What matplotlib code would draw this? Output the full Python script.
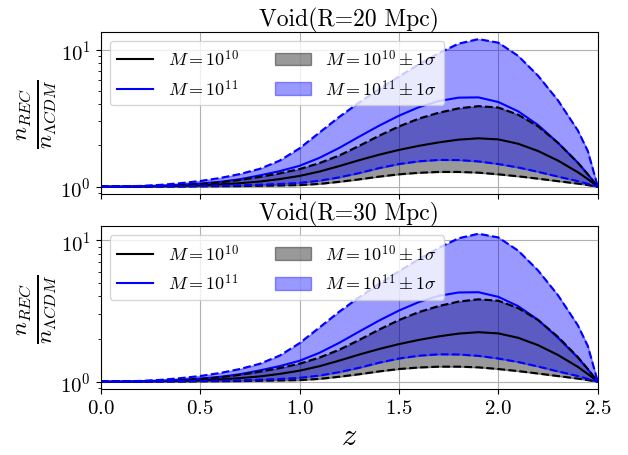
import matplotlib
matplotlib.use("Agg")
import matplotlib.pyplot as plt

plt.rcParams['font.family'] = 'serif'
plt.rcParams['font.serif'] = ['cmr10']
plt.rcParams['mathtext.fontset'] = 'cm'
plt.rcParams['axes.formatter.use_mathtext'] = True
plt.rcParams['axes.unicode_minus'] = False

z = [0.0, 0.1, 0.2, 0.3, 0.4, 0.5, 0.6, 0.7, 0.8, 0.9, 1.0, 1.1, 1.2, 1.3,
     1.4, 1.5, 1.6, 1.7, 1.8, 1.9, 2.0, 2.1, 2.2, 2.3, 2.4, 2.45, 2.5]

titles = ["Void(R=20 Mpc)", "Void(R=30 Mpc)"]

# R = 20 Mpc
m10_mid_20 = [1.0, 1.0, 1.002, 1.007, 1.014, 1.023, 1.038, 1.059, 1.089, 1.135, 1.197, 1.288, 1.413, 1.560,
              1.710, 1.854, 1.986, 2.104, 2.203, 2.254, 2.213, 2.056, 1.820, 1.549, 1.274, 1.135, 1.0]
m10_hi_20 = [1.0, 1.002, 1.007, 1.014, 1.026, 1.045, 1.074, 1.119, 1.178, 1.250, 1.343, 1.486, 1.690, 1.986,
             2.355, 2.754, 3.141, 3.467, 3.733, 3.873, 3.784, 3.350, 2.754, 2.089, 1.496, 1.230, 1.0]
m10_lo_20 = [1.0, 1.0, 1.0, 1.002, 1.002, 1.005, 1.007, 1.009, 1.014, 1.019, 1.026, 1.047, 1.084, 1.130,
             1.183, 1.230, 1.262, 1.280, 1.280, 1.265, 1.230, 1.189, 1.143, 1.096, 1.052, 1.026, 1.0]
m11_mid_20 = [1.0, 1.002, 1.007, 1.016, 1.030, 1.052, 1.084, 1.132, 1.208, 1.297, 1.419, 1.622, 1.919, 2.317,
              2.786, 3.296, 3.802, 4.217, 4.467, 4.487, 4.150, 3.548, 2.818, 2.089, 1.496, 1.230, 1.0]
m11_hi_20 = [1.0, 1.002, 1.012, 1.030, 1.059, 1.099, 1.156, 1.236, 1.349, 1.549, 1.905, 2.483, 3.236, 4.121,
             5.152, 6.383, 7.816, 9.441, 11.09, 11.97, 11.27, 9.016, 6.457, 4.266, 2.570, 1.820, 1.0]
m11_lo_20 = [1.0, 1.0, 1.002, 1.005, 1.007, 1.012, 1.016, 1.023, 1.033, 1.045, 1.064, 1.104, 1.169, 1.256,
             1.365, 1.462, 1.531, 1.567, 1.563, 1.528, 1.462, 1.380, 1.282, 1.183, 1.096, 1.047, 1.0]

# R = 30 Mpc
m10_mid_30 = [1.0, 1.0, 1.002, 1.007, 1.014, 1.023, 1.037, 1.059, 1.088, 1.134, 1.195, 1.285, 1.408, 1.553,
              1.700, 1.842, 1.972, 2.089, 2.186, 2.237, 2.193, 2.041, 1.810, 1.543, 1.271, 1.133, 1.0]
m10_hi_30 = [1.0, 1.002, 1.007, 1.014, 1.025, 1.044, 1.073, 1.118, 1.176, 1.247, 1.339, 1.480, 1.682, 1.972,
             2.335, 2.727, 3.105, 3.424, 3.685, 3.822, 3.735, 3.310, 2.727, 2.074, 1.490, 1.228, 1.0]
m10_lo_30 = [1.0, 1.0, 1.0, 1.002, 1.002, 1.005, 1.007, 1.009, 1.014, 1.019, 1.025, 1.046, 1.083, 1.128,
             1.181, 1.228, 1.259, 1.276, 1.276, 1.262, 1.228, 1.187, 1.141, 1.095, 1.051, 1.025, 1.0]
m11_mid_30 = [1.0, 1.002, 1.007, 1.016, 1.029, 1.050, 1.081, 1.128, 1.201, 1.287, 1.404, 1.598, 1.882, 2.259,
              2.702, 3.181, 3.652, 4.040, 4.270, 4.289, 3.977, 3.416, 2.733, 2.044, 1.478, 1.223, 1.0]
m11_hi_30 = [1.0, 1.002, 1.012, 1.029, 1.058, 1.096, 1.151, 1.228, 1.337, 1.528, 1.871, 2.415, 3.126, 3.954,
             4.909, 6.039, 7.345, 8.831, 10.33, 11.12, 10.47, 8.433, 6.109, 4.083, 2.500, 1.786, 1.0]
m11_lo_30 = [1.0, 1.0, 1.002, 1.005, 1.007, 1.012, 1.016, 1.023, 1.032, 1.045, 1.063, 1.103, 1.167, 1.253,
             1.361, 1.457, 1.525, 1.560, 1.556, 1.522, 1.457, 1.376, 1.279, 1.181, 1.095, 1.046, 1.0]

panels = [
    (m10_mid_20, m10_lo_20, m10_hi_20, m11_mid_20, m11_lo_20, m11_hi_20),
    (m10_mid_30, m10_lo_30, m10_hi_30, m11_mid_30, m11_lo_30, m11_hi_30),
]

fig = plt.figure(figsize=(6.28, 4.56), dpi=100)
ax1 = fig.add_axes([0.1604, 0.5724, 0.7914, 0.3559])
ax2 = fig.add_axes([0.1604, 0.1447, 0.7914, 0.3568], sharex=ax1)

for ax, title, data in zip([ax1, ax2], titles, panels):
    k_mid, k_lo, k_hi, b_mid, b_lo, b_hi = data
    ax.set_yscale('log')
    ax.grid(True, which='major', color='#b0b0b0', lw=0.8)
    ax.set_axisbelow(True)
    l10, = ax.plot(z, k_mid, color='black', lw=1.5, label=r'$M=10^{10}$')
    l11, = ax.plot(z, b_mid, color='blue', lw=1.5, label=r'$M=10^{11}$')
    f10 = ax.fill_between(z, k_lo, k_hi, color='black', alpha=0.4, label=r'$M=10^{10}\pm 1\sigma$')
    f11 = ax.fill_between(z, b_lo, b_hi, color='blue', alpha=0.4, label=r'$M=10^{11}\pm 1\sigma$')
    ax.plot(z, k_hi, color='black', ls='--', lw=1.5)
    ax.plot(z, k_lo, color='black', ls='--', lw=1.5)
    ax.plot(z, b_hi, color='blue', ls='--', lw=1.5)
    ax.plot(z, b_lo, color='blue', ls='--', lw=1.5)
    ax.set_title(title, fontsize=17, pad=4)
    ax.set_ylabel(r'$\frac{n_{REC}}{n_{\Lambda CDM}}$', fontsize=24, labelpad=1)
    ax.tick_params(axis='both', which='major', labelsize=15)
    ax.legend(handles=[l10, l11, f10, f11], ncol=2, loc='upper left', fontsize=13)

ax1.set_xlim(0, 2.5)
ax1.set_xticks([0.0, 0.5, 1.0, 1.5, 2.0, 2.5])
plt.setp(ax1.get_xticklabels(), visible=False)
ax2.set_xlabel(r'$z$', fontsize=22)

fig.savefig('out.png', dpi=100)
